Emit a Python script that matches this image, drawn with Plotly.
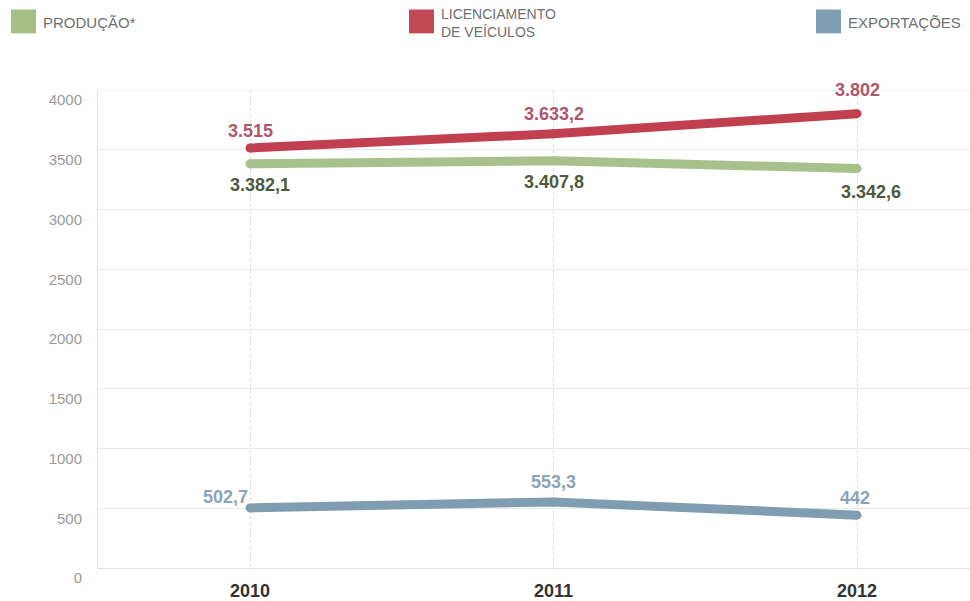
import plotly.graph_objects as go

# ---- data -----------------------------------------------------------------
years = [2010, 2011, 2012]
producao = [3382.1, 3407.8, 3342.6]
licenciamento = [3515, 3633.2, 3802]
exportacoes = [502.7, 553.3, 442]

series_names = ["PRODUÇÃO*", "LICENCIAMENTO DE VEÍCULOS", "EXPORTAÇÕES"]
y_ticks = [0, 500, 1000, 1500, 2000, 2500, 3000, 3500, 4000]

# ---- styling --------------------------------------------------------------
W, H = 970, 601
PLOT_L, PLOT_R, PLOT_T, PLOT_B = 98, 970, 90, 571
FONT = "Liberation Sans, Arial, sans-serif"

GREEN, RED, BLUE = "#a8c08b", "#c0404f", "#7f9db1"
GREEN_LBL, RED_LBL, BLUE_LBL = "#4e5a3b", "#b0566b", "#8ca4b6"
LEG_SQ = {"g": "#a6be86", "r": "#c24a56", "b": "#7f9fb5"}

PX_PER_YEAR = 303.5
X_RANGE = [2010 - (250 - PLOT_L) / PX_PER_YEAR, 2010 + (PLOT_R - 250) / PX_PER_YEAR]


def px_x(x):
    return (x - PLOT_L) / (PLOT_R - PLOT_L)


def px_y(y):
    return (PLOT_B - y) / (PLOT_B - PLOT_T)


def fmt_pt(v):
    """Portuguese number format: '.' thousands, ',' decimals."""
    if float(v).is_integer():
        s = f"{int(v):,}"
    else:
        s = f"{v:,.1f}"
    return s.replace(",", "#").replace(".", ",").replace("#", ".")


fig = go.Figure()

lines = [
    (producao, GREEN, GREEN_LBL, -21, series_names[0]),
    (licenciamento, RED, RED_LBL, 20, series_names[1]),
    (exportacoes, BLUE, BLUE_LBL, 20, series_names[2]),
]

# small label nudges (pixels) where labels sit off-centre
nudge = {
    (series_names[0], 2010): (10, 0),
    (series_names[0], 2012): (14, -2),
    (series_names[1], 2010): (0, -3),
    (series_names[1], 2012): (0, 4),
    (series_names[2], 2010): (-25, -9),
    (series_names[2], 2012): (-2, -3),
}

annotations = []
for vals, col, lcol, dy, name in lines:
    fig.add_trace(go.Scatter(
        x=years, y=vals, mode="lines+markers", name=name,
        line=dict(color=col, width=9),
        marker=dict(color=col, size=9),
        hoverinfo="skip", showlegend=False,
    ))
    for xv, yv in zip(years, vals):
        nx, ny = nudge.get((name, xv), (0, 0))
        annotations.append(dict(
            x=xv, y=yv, xref="x", yref="y", text=fmt_pt(yv), showarrow=False,
            xshift=nx, yshift=dy + ny, xanchor="center", yanchor="middle",
            font=dict(family=FONT, size=18, color=lcol, weight="bold"),
        ))

# ---- legend (drawn as squares + text above the plot) ----------------------
shapes = [
    # top border of the plot area (gridline at 4000)
    dict(type="line", xref="paper", yref="y", x0=0, x1=1, y0=4000, y1=4000,
         line=dict(color="#e8e8e8", width=1), layer="below"),
]
legend_items = [
    (11, LEG_SQ["g"], "PRODUÇÃO*", 15, 22),
    (409, LEG_SQ["r"], "LICENCIAMENTO<br>DE VEÍCULOS", 14, 23),
    (816, LEG_SQ["b"], "EXPORTAÇÕES", 15, 22),
]
for x0, col, txt, fsize, yc in legend_items:
    shapes.append(dict(
        type="rect", xref="paper", yref="paper",
        x0=px_x(x0), x1=px_x(x0 + 25), y0=px_y(33), y1=px_y(9),
        fillcolor=col, line=dict(width=0), layer="above",
    ))
    annotations.append(dict(
        x=px_x(x0 + 30), y=px_y(yc), xref="paper", yref="paper",
        text=txt, showarrow=False, xanchor="left", yanchor="middle",
        align="left",
        font=dict(family=FONT, size=fsize, color="#707070"),
    ))

fig.update_layout(
    width=W, height=H,
    margin=dict(l=PLOT_L, r=W - PLOT_R, t=PLOT_T, b=H - PLOT_B),
    paper_bgcolor="white", plot_bgcolor="white",
    showlegend=False,
    shapes=shapes, annotations=annotations,
    xaxis=dict(
        range=X_RANGE, tickvals=years, ticktext=[str(y) for y in years],
        showgrid=True, gridcolor="#dcdcdc", griddash="dot", gridwidth=1,
        showline=True, linecolor="#e2e2e2", linewidth=1,
        zeroline=False, ticks="", ticklabelstandoff=6,
        tickfont=dict(family=FONT, size=18, color="#333333", weight="bold"),
        fixedrange=True,
    ),
    yaxis=dict(
        range=[0, 4000], tickvals=y_ticks,
        showgrid=True, gridcolor="#e8e8e8", gridwidth=1,
        showline=True, linecolor="#e2e2e2", linewidth=1,
        zeroline=False, ticks="", ticklabelstandoff=12, ticklabelshift=10,
        tickfont=dict(family=FONT, size=15, color="#9a9a9a"),
        fixedrange=True,
    ),
)

fig.write_html("out.html", config={"displayModeBar": False})
